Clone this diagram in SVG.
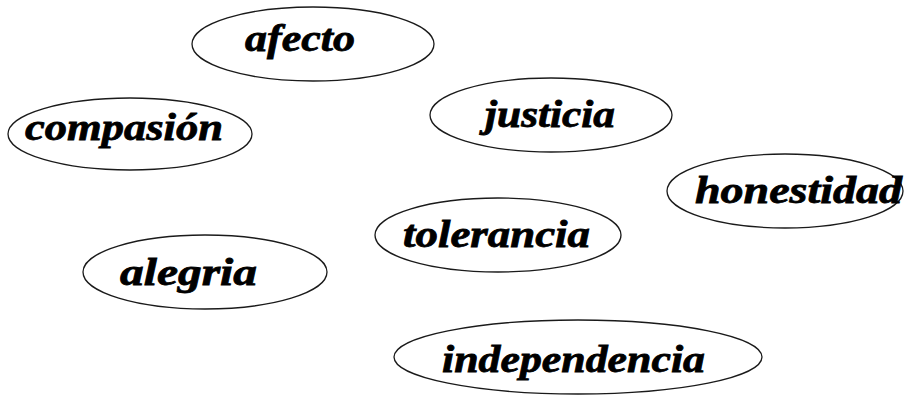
<svg xmlns="http://www.w3.org/2000/svg" width="905" height="397" viewBox="0 0 905 397">
<style>
.n ellipse{fill:#fff;stroke:#1a1a1a;stroke-width:1.3}
.n text{font-family:"Liberation Serif",serif;font-weight:bold;font-style:italic;font-size:38px;fill:#000;stroke:#000;stroke-width:0.8}
</style>
<rect width="905" height="397" fill="#fff"/>
<g id="connectors"></g>
<g id="afecto" class="n"><ellipse cx="313" cy="44" rx="121" ry="37"/><text x="245" y="51" textLength="110" lengthAdjust="spacingAndGlyphs">afecto</text></g>
<g id="compasion" class="n"><ellipse cx="130" cy="134" rx="122" ry="36"/><text x="25" y="140" textLength="198" lengthAdjust="spacingAndGlyphs">compasión</text></g>
<g id="justicia" class="n"><ellipse cx="551" cy="115" rx="121" ry="37"/><text x="485" y="127" textLength="130" lengthAdjust="spacingAndGlyphs">justicia</text></g>
<g id="honestidad" class="n"><ellipse cx="785" cy="191" rx="118" ry="37"/><text x="695" y="203" textLength="207" lengthAdjust="spacingAndGlyphs">honestidad</text></g>
<g id="tolerancia" class="n"><ellipse cx="498" cy="235" rx="123" ry="37"/><text x="403" y="247" textLength="187" lengthAdjust="spacingAndGlyphs">tolerancia</text></g>
<g id="alegria" class="n"><ellipse cx="205" cy="272" rx="122" ry="37"/><text x="120" y="285" textLength="137" lengthAdjust="spacingAndGlyphs">alegria</text></g>
<g id="independencia" class="n"><ellipse cx="578" cy="357" rx="184" ry="37"/><text x="442" y="372" textLength="263" lengthAdjust="spacingAndGlyphs">independencia</text></g>
</svg>
